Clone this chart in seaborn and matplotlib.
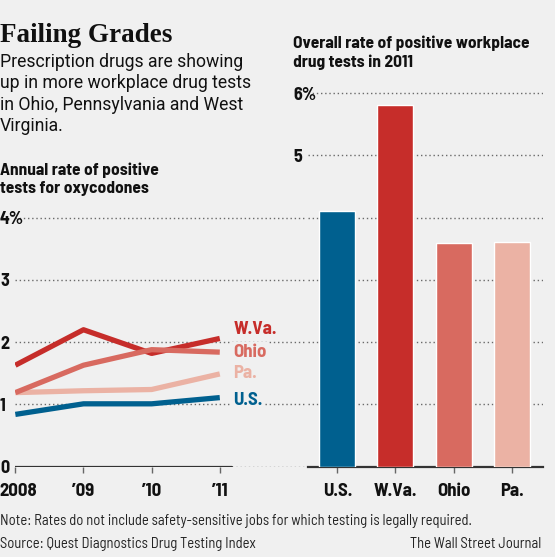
import matplotlib
matplotlib.use("Agg")
import matplotlib.pyplot as plt
import matplotlib.transforms as mtransforms
import seaborn as sns
import pandas as pd

# annual rate of positive tests for oxycodones (%)
years = [2008, 2009, 2010, 2011]
year_labels = ["2008", "\u201909", "\u201910", "\u201911"]
wva_line = [1.63, 2.20, 1.82, 2.06]
ohio_line = [1.19, 1.63, 1.88, 1.84]
pa_line = [1.19, 1.22, 1.24, 1.49]
us_line = [0.84, 1.01, 1.01, 1.11]

# overall rate of positive workplace drug tests in 2011 (%)
bar_states = ["U.S.", "W.Va.", "Ohio", "Pa."]
bar_rates = [4.10, 5.81, 3.60, 3.61]

colors = {"U.S.": "#00608f", "W.Va.": "#c62d2a", "Ohio": "#d86a60", "Pa.": "#ebb2a4"}
bg = "#f0f0f0"
ink = "#111111"
narrow = ["Barlow Semi Condensed", "Archivo Narrow", "DejaVu Sans"]

sns.set_theme(style="white")
plt.rcParams["font.family"] = narrow

lines = pd.DataFrame({
    "year": years * 4,
    "rate": us_line + pa_line + wva_line + ohio_line,
    "state": ["U.S."] * 4 + ["Pa."] * 4 + ["W.Va."] * 4 + ["Ohio"] * 4,
})
bars = pd.DataFrame({"state": bar_states, "rate": bar_rates})

W, H = 555, 557
fig = plt.figure(figsize=(W / 100, H / 100), dpi=100, facecolor=bg)

def box(l, r, t, b):
    return [l / W, 1 - b / H, (r - l) / W, (b - t) / H]

ax1 = fig.add_axes(box(15, 307, 199, 466.7))
ax2 = fig.add_axes(box(307.7, 543, 89.4, 466.7))
grid_kw = dict(color="#6a6a6a", linestyle=(0, (1, 2)), linewidth=1.0)

# ---- left: line chart
ax1.set_facecolor("none")
sns.lineplot(data=lines, x="year", y="rate", hue="state", palette=colors,
             hue_order=["U.S.", "Pa.", "W.Va.", "Ohio"], linewidth=3.8,
             solid_capstyle="butt", legend=False, ax=ax1, zorder=3)
ax1.set_xlim(2007.995, 2012.28)
ax1.set_ylim(0, 4.3)
ax1.set_yticks([0, 1, 2, 3, 4])
ax1.set_yticklabels(["0", "1", "2", "3", "4%"])
ax1.set_xticks(years)
ax1.set_xticklabels(year_labels)
ax1.yaxis.grid(True, **grid_kw)
ax1.set_axisbelow(True)
for s in ax1.spines.values():
    s.set_visible(False)
ax1.axhline(0, xmin=0, xmax=(232 - 15) / (307 - 15), color="#333333", lw=1.6, zorder=4)
ax1.tick_params(axis="y", length=0, pad=10.8, labelsize=13, labelcolor=ink)
ax1.tick_params(axis="x", bottom=True, length=4, width=1, color="#666666",
                pad=7.5, labelsize=13.5, labelcolor=ink)
for t in ax1.get_yticklabels():
    t.set_ha("left")
    t.set_fontweight("bold")
for t in ax1.get_xticklabels():
    t.set_fontweight("bold")
# nudge "2008" so it stays inside the figure
first = ax1.get_xticklabels()[0]
first.set_transform(first.get_transform() +
                    mtransforms.ScaledTranslation(3 / 100, 0, fig.dpi_scale_trans))
ax1.set_xlabel("")
ax1.set_ylabel("")

label_y = {"W.Va.": 2.2, "Ohio": 1.83, "Pa.": 1.49, "U.S.": 1.07}
for st in ["W.Va.", "Ohio", "Pa.", "U.S."]:
    ax1.text(2011.2, label_y[st], st, color=colors[st], fontsize=13.5,
             fontweight="bold", va="center", ha="left", zorder=5,
             bbox=dict(facecolor=bg, edgecolor="none", pad=1.5))

# ---- right: bar chart
ax2.set_facecolor("none")
sns.barplot(data=bars, x="state", y="rate", hue="state", palette=colors,
            width=0.62, saturation=1, legend=False, ax=ax2, zorder=3)
ax2.set_xlim(-0.51, 3.54)
ax2.set_ylim(0, 6.06)
ax2.set_yticks([0, 1, 2, 3, 4, 5, 6])
ax2.set_yticklabels(["", "", "", "", "", "5", "6%"])
ax2.yaxis.grid(True, **grid_kw)
ax2.set_axisbelow(True)
for k, s in ax2.spines.items():
    s.set_visible(k == "bottom")
ax2.spines["bottom"].set_color("#333333")
ax2.spines["bottom"].set_linewidth(1.6)
ax2.tick_params(axis="y", length=0, pad=10.1, labelsize=13, labelcolor=ink)
ax2.tick_params(axis="x", bottom=True, length=4, width=1, color="#666666",
                pad=7.5, labelsize=13.5, labelcolor=ink)
for t in ax2.get_yticklabels():
    t.set_ha("left")
    t.set_fontweight("bold")
for t in ax2.get_xticklabels():
    t.set_fontweight("bold")
ax2.set_xlabel("")
ax2.set_ylabel("")

# ---- texts
fig.text(0 / W, 1 - 42 / H, "Failing Grades", family=["Liberation Serif", "DejaVu Serif"],
         fontweight="bold", fontsize=19.5, color=ink, va="baseline")
sub = ["Prescription drugs are showing", "up in more workplace drug tests",
       "in Ohio, Pennsylvania and West", "Virginia."]
for i, s in enumerate(sub):
    fig.text(0, 1 - (67 + 21.3 * i) / H, s, family=["Roboto", "DejaVu Sans"],
             fontsize=12.7, color=ink, va="baseline")
fig.text(0, 1 - 175 / H, "Annual rate of positive", fontsize=12.5, fontweight="bold",
         color=ink, va="baseline")
fig.text(0, 1 - 193 / H, "tests for oxycodones", fontsize=12.5, fontweight="bold",
         color=ink, va="baseline")
fig.text(293 / W, 1 - 48 / H, "Overall rate of positive workplace", fontsize=12.5,
         fontweight="bold", color=ink, va="baseline")
fig.text(293 / W, 1 - 67 / H, "drug tests in 2011", fontsize=12.5,
         fontweight="bold", color=ink, va="baseline")
fig.text(0, 1 - 521 / H,
         "Note: Rates do not include safety-sensitive jobs for which testing is legally required.",
         fontsize=10.5, color="#222222", va="center")
fig.text(0, 1 - 544 / H, "Source: Quest Diagnostics Drug Testing Index",
         fontsize=10.5, color="#222222", va="center")
fig.text(541.6 / W, 1 - 544 / H, "The Wall Street Journal", fontsize=10.5,
         color="#222222", va="center", ha="right")

fig.savefig("out.png", dpi=100, facecolor=bg)
